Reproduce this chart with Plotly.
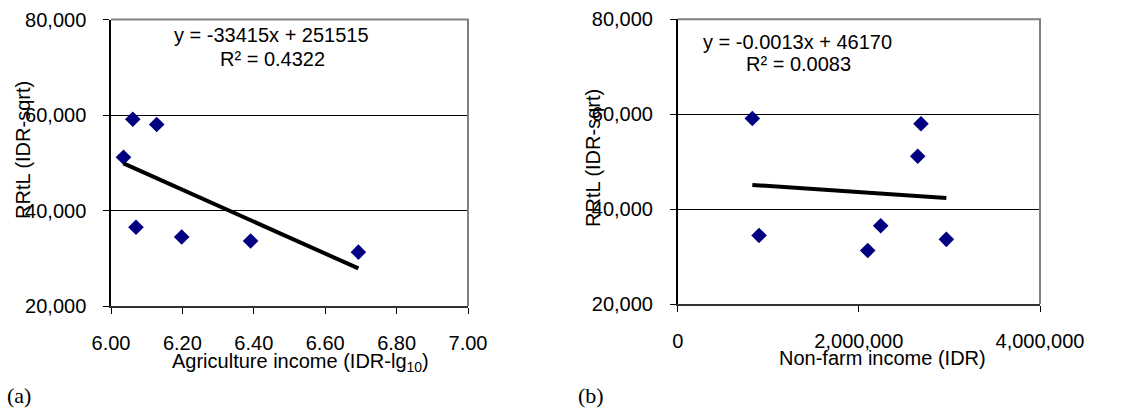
import plotly.graph_objects as go

# ---- data ----
rrtl = [51150, 59100, 58000, 36500, 34450, 33620, 31280]          # RRtL (IDR-sqrt)
agri_income_lg10 = [6.035, 6.061, 6.128, 6.070, 6.198, 6.391, 6.693]
nonfarm_income = [2650000, 824000, 2686000, 2241000, 898000, 2966000, 2098000]

trend_a = {"slope": -33415, "intercept": 251515, "r2": "0.4322"}
trend_b = {"slope": -0.0013, "intercept": 46170, "r2": "0.0083"}

ag_ticks = [6.0, 6.2, 6.4, 6.6, 6.8, 7.0]
nf_ticks = [0, 2000000, 4000000]
y_ticks = [20000, 40000, 60000, 80000]

W, H = 1134, 411
FONT = "Liberation Sans, Arial, sans-serif"
FS = 20
NAVY = "#000080"


def px(x):
    return x / W


def py(y):
    return 1 - y / H


fig = go.Figure()

# scatter points
fig.add_trace(go.Scatter(x=agri_income_lg10, y=rrtl, mode="markers",
                         marker=dict(symbol="diamond", size=12, color=NAVY),
                         xaxis="x", yaxis="y", showlegend=False))
fig.add_trace(go.Scatter(x=nonfarm_income, y=rrtl, mode="markers",
                         marker=dict(symbol="diamond", size=12, color=NAVY),
                         xaxis="x2", yaxis="y2", showlegend=False))

# trend lines from the displayed regression equations
def trend(xs, t):
    x0, x1 = min(xs), max(xs)
    return [x0, x1], [t["slope"] * x0 + t["intercept"], t["slope"] * x1 + t["intercept"]]

tx, ty = trend(agri_income_lg10, trend_a)
fig.add_trace(go.Scatter(x=tx, y=ty, mode="lines", line=dict(color="black", width=4),
                         xaxis="x", yaxis="y", showlegend=False))
tx, ty = trend(nonfarm_income, trend_b)
fig.add_trace(go.Scatter(x=tx, y=ty, mode="lines", line=dict(color="black", width=4),
                         xaxis="x2", yaxis="y2", showlegend=False))

common_x = dict(showline=True, linecolor="#303030", linewidth=2, ticks="outside",
                ticklen=6, tickcolor="black", tickwidth=1, showgrid=False, zeroline=False,
                automargin=False,
                tickfont=dict(family=FONT, size=FS, color="black"), ticklabelstandoff=12)
common_y = dict(showline=True, linecolor="black", linewidth=1.5, ticks="outside",
                ticklen=6, tickcolor="black", tickwidth=1, showgrid=True, gridcolor="black",
                gridwidth=1, zeroline=False, tickvals=y_ticks, tickformat=",",
                range=[20000, 80000], automargin=False,
                tickfont=dict(family=FONT, size=FS, color="black"), ticklabelstandoff=13)

fig.update_layout(
    width=W, height=H, margin=dict(l=0, r=0, t=0, b=0, pad=0, autoexpand=False),
    paper_bgcolor="white", plot_bgcolor="white", showlegend=False,
    xaxis=dict(domain=[px(111), px(468)], range=[6, 7], tickvals=ag_ticks,
               tickformat=".2f", anchor="y", **common_x),
    yaxis=dict(domain=[py(306), py(19.5)], anchor="x", **common_y),
    xaxis2=dict(domain=[px(677.7), px(1040)], range=[0, 4000000], tickvals=nf_ticks,
                tickformat=",", anchor="y2", **common_x),
    yaxis2=dict(domain=[py(304), py(19.3)], anchor="x2", **common_y),
)

# gray top/right frame
for xr, yr in (("x domain", "y domain"), ("x2 domain", "y2 domain")):
    fig.add_shape(type="path", path="M 0,1 L 1,1 L 1,0", xref=xr, yref=yr,
                  line=dict(color="#808080", width=2), layer="above")

def ann(text, x, y, size=FS, family=FONT, angle=0, xanchor="center"):
    fig.add_annotation(text=text, x=px(x), y=py(y), xref="paper", yref="paper",
                       showarrow=False, textangle=angle, xanchor=xanchor, yanchor="middle",
                       font=dict(family=family, size=size, color="black"))

ann(f"y = {trend_a['slope']}x + {trend_a['intercept']}", 271, 35)
ann(f"R² = {trend_a['r2']}", 272, 59)
ann(f"y = {trend_b['slope']}x + {trend_b['intercept']}", 797, 42)
ann(f"R² = {trend_b['r2']}", 798, 64)

ann("RRtL (IDR-sqrt)", 23, 150, angle=-90)
ann("RRtL (IDR-sqrt)", 593, 158, angle=-90)
ann("Agriculture income (IDR-lg<sub>10</sub>)", 300, 362)
ann("Non-farm income (IDR)", 882, 358)

ann("(a)", 5, 395, size=22, family="Liberation Serif, Times New Roman, serif", xanchor="left")
ann("(b)", 576, 395, size=22, family="Liberation Serif, Times New Roman, serif", xanchor="left")

fig.write_html("out.html", config={"displayModeBar": False},
               post_script="document.body.style.margin='0';document.body.style.padding='0';"
                           "document.body.style.overflow='hidden';")
